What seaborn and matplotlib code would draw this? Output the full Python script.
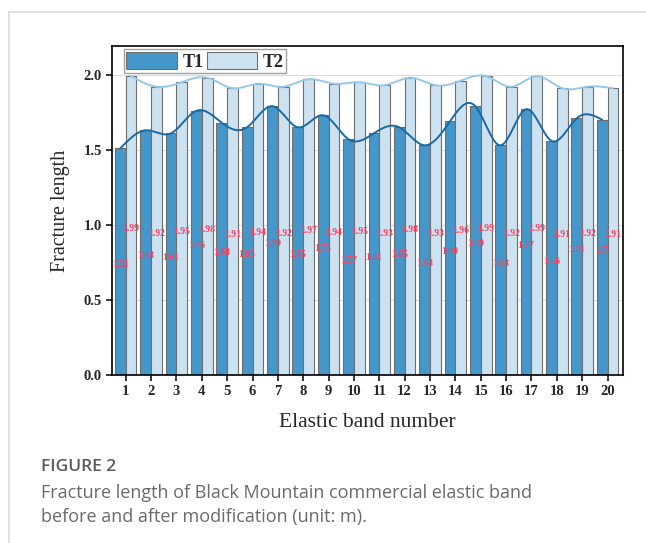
import numpy as np
import pandas as pd
import matplotlib
matplotlib.use("Agg")
import matplotlib.pyplot as plt
import seaborn as sns

# data
bands = list(range(1, 21))
t1_length = [1.51, 1.63, 1.61, 1.76, 1.68, 1.65, 1.79, 1.65, 1.73, 1.57,
             1.61, 1.65, 1.53, 1.69, 1.79, 1.53, 1.77, 1.56, 1.71, 1.70]
t2_length = [1.99, 1.92, 1.95, 1.98, 1.91, 1.94, 1.92, 1.97, 1.94, 1.95,
             1.93, 1.98, 1.93, 1.96, 1.99, 1.92, 1.99, 1.91, 1.92, 1.91]
series_names = ["T1", "T2"]
y_ticks = [0.0, 0.5, 1.0, 1.5, 2.0]


def natural_spline(x, y, n=400):
    '''natural cubic spline through the bar tops, only for drawing the curve'''
    x = np.asarray(x, float)
    y = np.asarray(y, float)
    k = len(x)
    h = np.diff(x)
    A = np.zeros((k, k))
    b = np.zeros(k)
    A[0, 0] = A[-1, -1] = 1
    for i in range(1, k - 1):
        A[i, i - 1] = h[i - 1]
        A[i, i] = 2 * (h[i - 1] + h[i])
        A[i, i + 1] = h[i]
        b[i] = 3 * ((y[i + 1] - y[i]) / h[i] - (y[i] - y[i - 1]) / h[i - 1])
    c = np.linalg.solve(A, b)
    xs = np.linspace(x[0], x[-1], n)
    idx = np.clip(np.searchsorted(x, xs) - 1, 0, k - 2)
    dx = xs - x[idx]
    bb = (y[idx + 1] - y[idx]) / h[idx] - h[idx] * (2 * c[idx] + c[idx + 1]) / 3
    d = (c[idx + 1] - c[idx]) / (3 * h[idx])
    ys = y[idx] + bb * dx + c[idx] * dx ** 2 + d * dx ** 3
    return xs, ys


df = pd.DataFrame({
    "band": bands * 2,
    "length": t1_length + t2_length,
    "series": ["T1"] * len(bands) + ["T2"] * len(bands),
})

sns.set_style("white")
plt.rcParams["font.family"] = ["Liberation Serif", "DejaVu Serif"]

fig = plt.figure(figsize=(6.46, 5.43), dpi=100)
ax = fig.add_axes([0.173, 0.309, 0.791, 0.606])

bar_width = 0.85
colors = {"T1": "#4597c9", "T2": "#cde2f1"}
sns.barplot(data=df, x="band", y="length", hue="series", hue_order=series_names,
            palette=colors, width=bar_width, edgecolor="#6e6e6e", linewidth=0.8,
            saturation=1, errorbar=None, ax=ax, zorder=2)

# smooth curves over the bar tops
off = bar_width / 4
xpos = np.arange(len(bands))
xs, ys = natural_spline(xpos - off, t1_length)
ax.plot(xs, ys, color="#1a6aa5", lw=1.4, zorder=4)
xs, ys = natural_spline(xpos + off, t2_length)
ax.plot(xs, ys, color="#96c8e8", lw=1.4, zorder=4)

# value labels in red at half height
for i in range(len(bands)):
    ax.text(xpos[i] - off, t1_length[i] / 2 - 0.02, f"{t1_length[i]:g}",
            color="#ff4060", fontsize=7, fontweight="bold", ha="center",
            va="center", zorder=5)
    ax.text(xpos[i] + off, t2_length[i] / 2 - 0.02, f"{t2_length[i]:g}",
            color="#ff4060", fontsize=7, fontweight="bold", ha="center",
            va="center", zorder=5)

ax.set_xlim(-0.55, len(bands) - 0.4)
ax.set_ylim(0, 2.19)
ax.set_yticks(y_ticks)
ax.set_yticklabels([f"{v:.1f}" for v in y_ticks], fontsize=10.5, fontweight="bold")
ax.set_xticks(xpos)
ax.set_xticklabels([str(b) for b in bands], fontsize=10.5, fontweight="bold")
ax.tick_params(axis="both", direction="out", length=4, width=1.1, color="black",
               bottom=True, left=True, pad=3)
ax.yaxis.grid(True, color="#dddddd", lw=0.8, zorder=0)
ax.set_axisbelow(True)
for s in ax.spines.values():
    s.set_color("black")
    s.set_linewidth(1.2)

ax.set_xlabel("Elastic band number", fontsize=15.5, labelpad=11)
ax.set_ylabel("Fracture length", fontsize=14.5, labelpad=10)

ax.legend(loc="upper left", bbox_to_anchor=(0.023, 0.99), borderaxespad=0,
          ncol=2, frameon=True, fancybox=False, edgecolor="#888888",
          handlelength=2.8, handleheight=1.05, handletextpad=0.3,
          columnspacing=0.2, borderpad=0.15,
          prop={"weight": "bold", "size": 13})

# card frame and caption
fig.add_artist(plt.Line2D([0.014, 1.0], [0.978, 0.978], color="#dcdcdc", lw=1.2,
                          transform=fig.transFigure))
fig.add_artist(plt.Line2D([0.014, 0.014], [0.0, 0.978], color="#dcdcdc", lw=1.2,
                          transform=fig.transFigure))
fig.text(0.064, 0.140, "FIGURE 2", fontsize=12.5, color="#5a5a5a",
         family="Open Sans", fontweight="semibold", va="center")
fig.text(0.064, 0.092, "Fracture length of Black Mountain commercial elastic band",
         fontsize=13, color="#6a6a6a", family="Open Sans", va="center")
fig.text(0.064, 0.048, "before and after modification (unit: m).",
         fontsize=13, color="#6a6a6a", family="Open Sans", va="center")

fig.savefig("out.png", dpi=100)
